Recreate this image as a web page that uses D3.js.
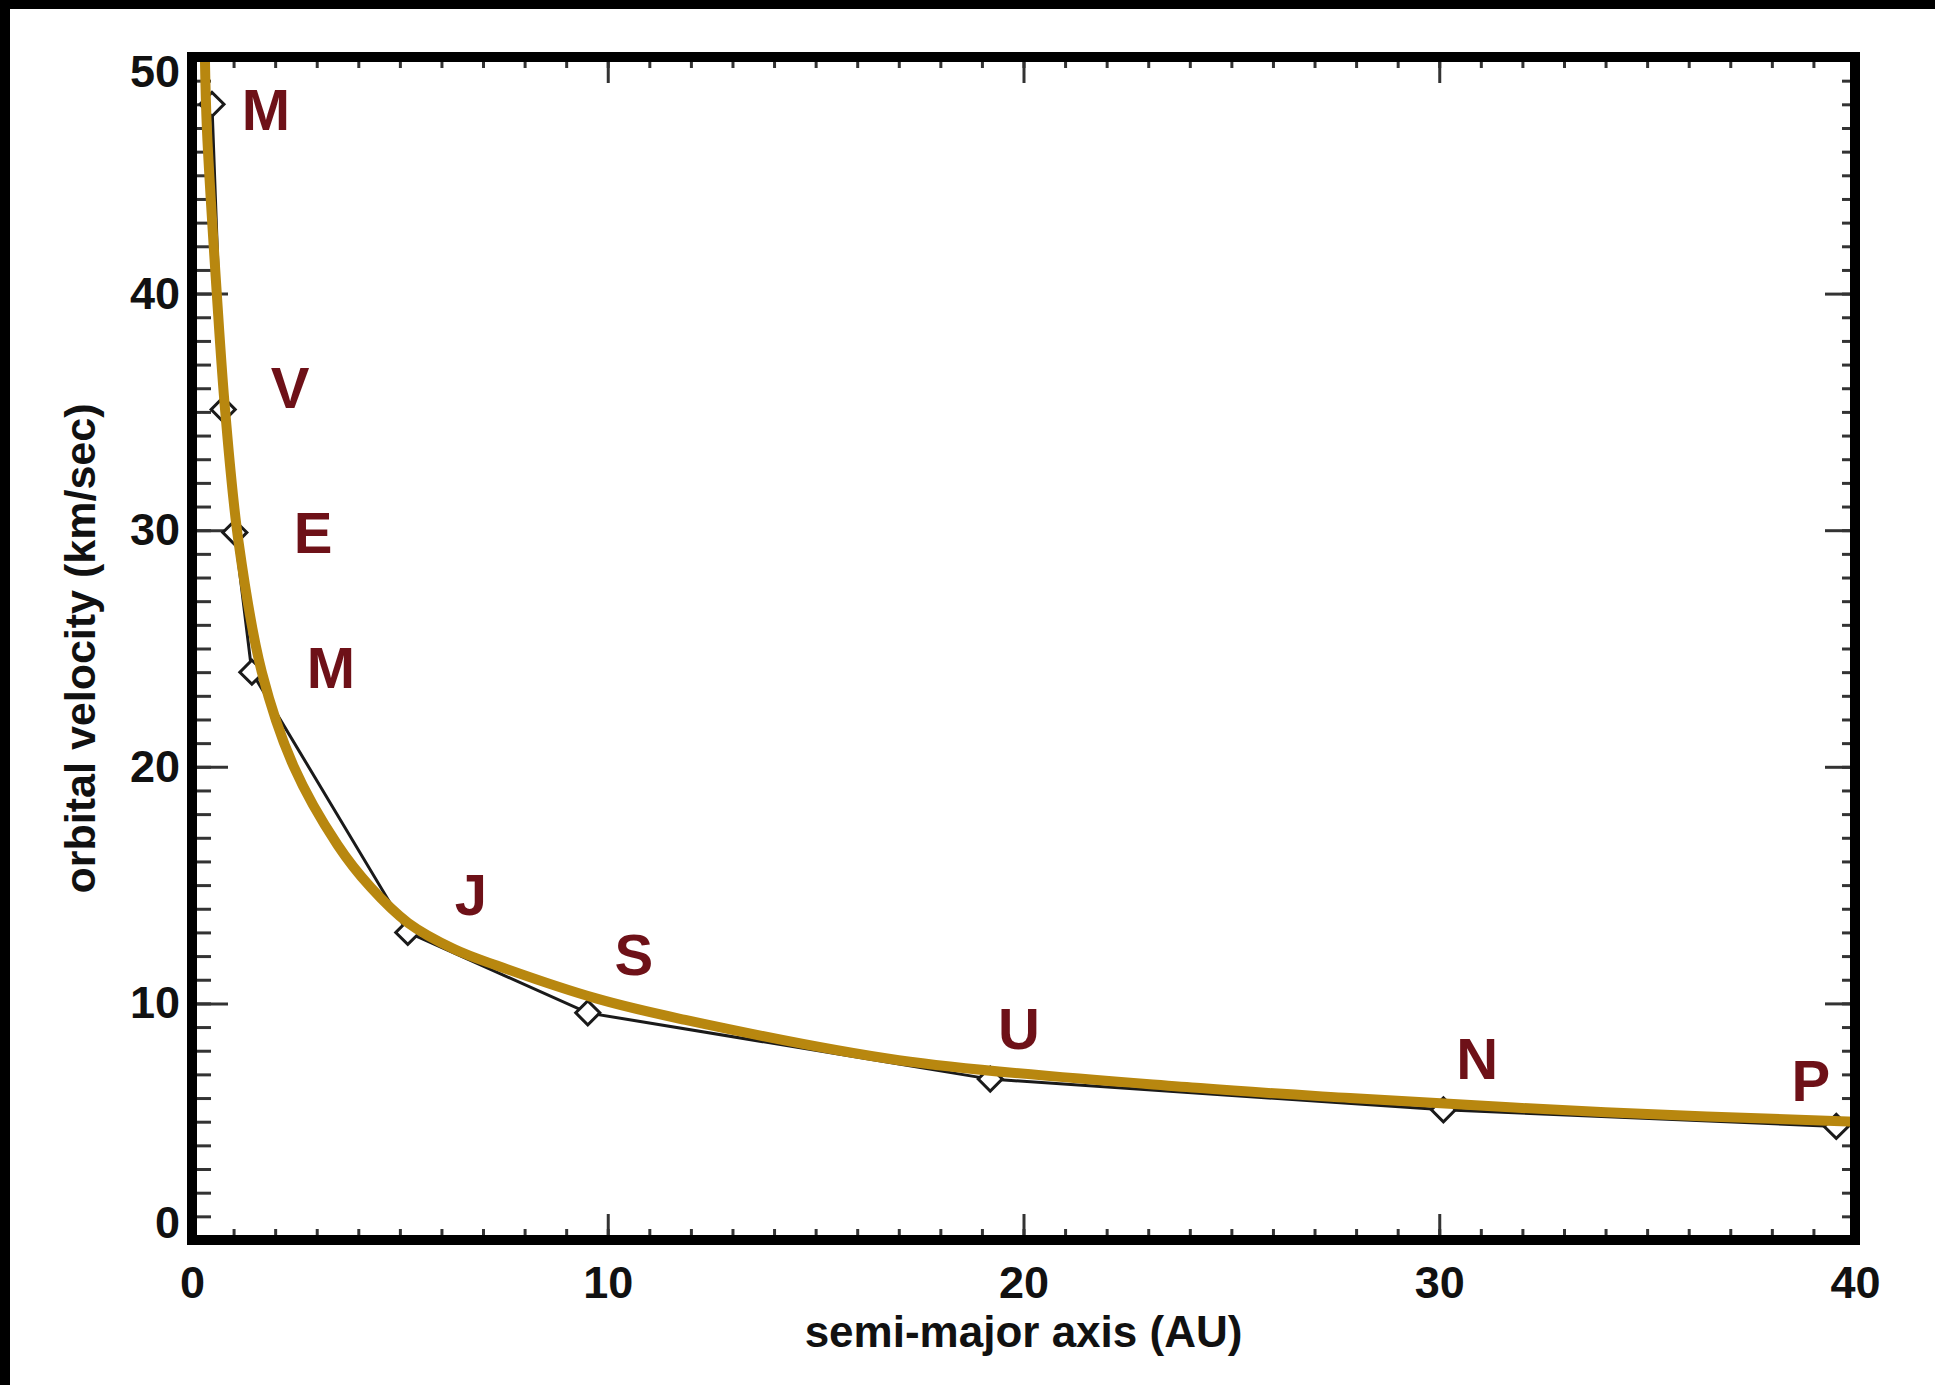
<!DOCTYPE html>
<html>
<head>
<meta charset="utf-8">
<script src="https://cdn.jsdelivr.net/npm/d3@7"></script>
<style>
  body { margin: 0; background: #000; }
  text { font-family: "Liberation Sans", Arial, Helvetica, sans-serif; }
</style>
</head>
<body>
<script>
// planets: semi-major axis (AU) vs orbital velocity (km/sec)
var planetNames = ["Mercury", "Venus", "Earth", "Mars", "Jupiter", "Saturn", "Uranus", "Neptune", "Pluto"];
var planetLabels = ["M", "V", "E", "M", "J", "S", "U", "N", "P"];
var semiMajor = [0.48, 0.75, 1.03, 1.44, 5.19, 9.52, 19.2, 30.1, 39.55];
var velocity = [48.0, 35.1, 29.9, 24.0, 13.0, 9.6, 6.8, 5.5, 4.8];

// where each letter sits, in data units
var labelA = [1.78, 2.36, 2.91, 3.34, 6.71, 10.63, 19.89, 30.91, 38.94];
var labelV = [47.8, 36.05, 29.9, 24.2, 14.6, 12.1, 8.95, 7.7, 6.75];

// gold curve
var curveA = [0.31, 0.36, 0.6, 0.8, 1.12, 1.68, 2.45, 3.5, 4.3, 5.2, 6.3, 7.33, 9.74, 11.74, 17.0, 24.25, 27.85, 34.0, 40.0];
var curveV = [50, 46.9, 39.9, 35.0, 29.5, 24.0, 20.0, 16.7, 14.9, 13.4, 12.3, 11.6, 10.2, 9.35, 7.6, 6.42, 6.0, 5.4, 5.0];

var xTicks = [0, 10, 20, 30, 40];
var yTicks = [0, 10, 20, 30, 40, 50];
var xMinor = d3.range(0, 41, 1);
var yMinor = d3.range(0, 51, 1);

var svgWidth = 1935;
var svgHeight = 1385;

var svg = d3.select("body")
  .append("svg")
  .attr("width", svgWidth)
  .attr("height", svgHeight);

// black edge on top and left, white page
svg.append("rect").attr("width", svgWidth).attr("height", svgHeight).attr("fill", "#000");
svg.append("rect").attr("x", 10).attr("y", 9)
  .attr("width", svgWidth - 10).attr("height", svgHeight - 9).attr("fill", "#fff");

var xScale = d3.scaleLinear().domain([0, 40]).range([192, 1855]);
var yScale = d3.scaleLinear().domain([0, 50]).range([1240, 57]);

// clip for the lines
svg.append("clipPath").attr("id", "plotClip")
  .append("rect")
  .attr("x", xScale(0)).attr("y", yScale(50))
  .attr("width", xScale(40) - xScale(0))
  .attr("height", yScale(0) - yScale(50));

// inward ticks on all four sides
function tickGroup(axis, transform) {
  var g = svg.append("g").attr("transform", transform).call(axis);
  g.select(".domain").remove();
  g.selectAll("line").attr("stroke", "#333").attr("stroke-width", 3);
  return g;
}
tickGroup(d3.axisTop(xScale).tickValues(xMinor).tickSize(11).tickFormat(""), `translate(0, ${yScale(0)})`);
tickGroup(d3.axisTop(xScale).tickValues(xTicks).tickSize(26).tickFormat(""), `translate(0, ${yScale(0)})`);
tickGroup(d3.axisBottom(xScale).tickValues(xMinor).tickSize(11).tickFormat(""), `translate(0, ${yScale(50)})`);
tickGroup(d3.axisBottom(xScale).tickValues(xTicks).tickSize(26).tickFormat(""), `translate(0, ${yScale(50)})`);
tickGroup(d3.axisRight(yScale).tickValues(yMinor).tickSize(19).tickFormat(""), `translate(${xScale(0)}, 0)`);
tickGroup(d3.axisRight(yScale).tickValues(yTicks).tickSize(36).tickFormat(""), `translate(${xScale(0)}, 0)`);
tickGroup(d3.axisLeft(yScale).tickValues(yMinor).tickSize(13).tickFormat(""), `translate(${xScale(40)}, 0)`);
tickGroup(d3.axisLeft(yScale).tickValues(yTicks).tickSize(30).tickFormat(""), `translate(${xScale(40)}, 0)`);

// tick labels
var xLabels = svg.append("g")
  .attr("transform", `translate(0, ${yScale(0)})`)
  .call(d3.axisBottom(xScale).tickValues(xTicks).tickSize(0).tickPadding(26));
xLabels.select(".domain").remove();
xLabels.selectAll("text")
  .attr("fill", "#111")
  .style("font-size", "45px")
  .style("font-weight", "bold");

var yLabels = svg.append("g")
  .attr("transform", `translate(${xScale(0)}, 0)`)
  .call(d3.axisLeft(yScale).tickValues(yTicks).tickSize(0).tickPadding(12));
yLabels.select(".domain").remove();
yLabels.selectAll("text")
  .attr("fill", "#111")
  .style("font-size", "45px")
  .style("font-weight", "bold")
  .attr("transform", (d) => (d == 50 ? "translate(0, 15)" : d == 0 ? "translate(0, -17)" : null));

// axis titles
svg.append("text")
  .text("semi-major axis (AU)")
  .attr("x", (xScale(0) + xScale(40)) / 2)
  .attr("y", 1347)
  .attr("text-anchor", "middle")
  .attr("fill", "#111")
  .style("font-size", "44px")
  .style("font-weight", "bold");

svg.append("text")
  .text("orbital velocity (km/sec)")
  .attr("transform", `translate(95, ${(yScale(0) + yScale(50)) / 2}) rotate(-90)`)
  .attr("text-anchor", "middle")
  .attr("fill", "#111")
  .style("font-size", "43px")
  .style("font-weight", "bold");

var plot = svg.append("g").attr("clip-path", "url(#plotClip)");

// planets joined by a thin black line
var planetLine = d3.line()
  .x((d, i) => xScale(semiMajor[i]))
  .y((d, i) => yScale(velocity[i]));

plot.append("path")
  .attr("d", planetLine(planetNames))
  .attr("fill", "none")
  .attr("stroke", "#1a1a1a")
  .attr("stroke-width", 3);

plot.selectAll(".planet")
  .data(planetNames)
  .enter()
  .append("path")
  .classed("planet", true)
  .attr("d", d3.symbol().type(d3.symbolSquare).size(290))
  .attr("transform", (d, i) => `translate(${xScale(semiMajor[i])}, ${yScale(velocity[i])}) rotate(45)`)
  .attr("fill", "#fff")
  .attr("stroke", "#1a1a1a")
  .attr("stroke-width", 3);

// gold curve
var goldLine = d3.line()
  .x((d, i) => xScale(curveA[i]))
  .y((d, i) => yScale(curveV[i]))
  .curve(d3.curveCatmullRom.alpha(0.5));

plot.append("path")
  .attr("d", goldLine(curveA))
  .attr("fill", "none")
  .attr("stroke", "#b8870f")
  .attr("stroke-width", 10);

// planet letters
svg.selectAll(".planetLabel")
  .data(planetLabels)
  .enter()
  .append("text")
  .classed("planetLabel", true)
  .text((d) => d)
  .attr("x", (d, i) => xScale(labelA[i]))
  .attr("y", (d, i) => yScale(labelV[i]))
  .attr("dy", "0.36em")
  .attr("text-anchor", "middle")
  .attr("fill", "#6e1118")
  .style("font-size", "58px")
  .style("font-weight", "bold");

// heavy frame around the plot
svg.append("rect")
  .attr("x", xScale(0))
  .attr("y", yScale(50))
  .attr("width", xScale(40) - xScale(0))
  .attr("height", yScale(0) - yScale(50))
  .attr("fill", "none")
  .attr("stroke", "#000")
  .attr("stroke-width", 10);
</script>
</body>
</html>
